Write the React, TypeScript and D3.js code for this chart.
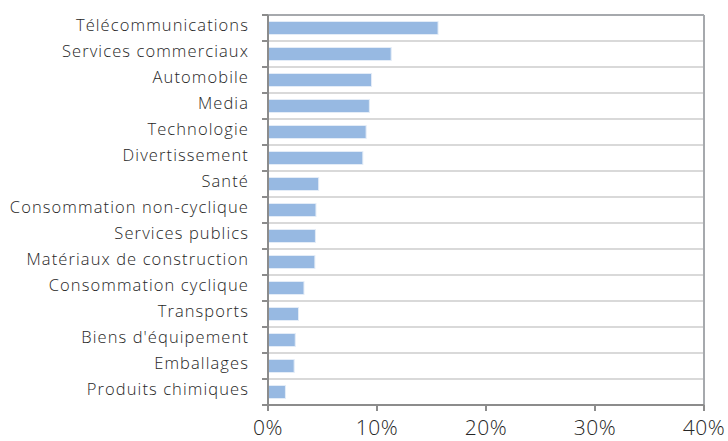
import React from "react";
import * as d3 from "d3";

const categories = [
  "Télécommunications",
  "Services commerciaux",
  "Automobile",
  "Media",
  "Technologie",
  "Divertissement",
  "Santé",
  "Consommation non-cyclique",
  "Services publics",
  "Matériaux de construction",
  "Consommation cyclique",
  "Transports",
  "Biens d'équipement",
  "Emballages",
  "Produits chimiques",
];
const values = [15.6, 11.3, 9.5, 9.3, 9.0, 8.7, 4.65, 4.4, 4.35, 4.3, 3.3, 2.8, 2.5, 2.4, 1.6];
const xTicks = [0, 10, 20, 30, 40];

const W = 728;
const H = 441;
const left = 268;
const right = 704;
const top = 15;
const bottom = 405;
const FONT = "'Open Sans', Lato, sans-serif";

export default function App() {
  const x = d3.scaleLinear().domain([0, 40]).range([left, right]);
  const y = d3.scaleBand<string>().domain(categories).range([top, bottom]).paddingInner(0.5).paddingOuter(0.25);
  const step = y.step();
  const boundaries = d3.range(categories.length + 1).map((i) => top + i * step);

  return (
    <svg width={W} height={H} style={{ position: "absolute", left: 0, top: 0 }}>
      <rect x={0} y={0} width={W} height={H} fill="#fff" />
      {boundaries.slice(1, -1).map((b, i) => (
        <line key={"g" + i} x1={left} x2={right} y1={b} y2={b} stroke="#d9d9d9" strokeWidth={2} />
      ))}
      <line x1={left} x2={right} y1={top} y2={top} stroke="#a6a9ad" strokeWidth={2} />
      <line x1={right} x2={right} y1={top} y2={bottom} stroke="#a6a9ad" strokeWidth={2} />
      {categories.map((c, i) => (
        <rect
          key={c}
          x={x(0)}
          y={y(c)!}
          width={x(values[i]) - x(0)}
          height={y.bandwidth()}
          fill="#97b9e2"
          stroke="#e3ecf7"
          strokeWidth={1}
        />
      ))}
      <line x1={left} x2={left} y1={top} y2={bottom + 6} stroke="#8c8c8c" strokeWidth={2} />
      {boundaries.map((b, i) => (
        <line key={"lt" + i} x1={left - 6} x2={left} y1={b} y2={b} stroke="#8c8c8c" strokeWidth={2} />
      ))}
      <line x1={left - 6} x2={right} y1={bottom} y2={bottom} stroke="#8c8c8c" strokeWidth={2} />
      {xTicks.map((t) => (
        <g key={"xt" + t}>
          <line x1={x(t)} x2={x(t)} y1={bottom} y2={bottom + 6} stroke="#8c8c8c" strokeWidth={2} />
          <text x={x(t)} y={435} textAnchor="middle" fontFamily={FONT} fontSize={21} fontWeight={300} letterSpacing={0.5} fill="#262626">
            {t + "%"}
          </text>
        </g>
      ))}
      {categories.map((c) => (
        <text
          key={"l" + c}
          x={249}
          y={y(c)! + y.bandwidth() / 2}
          dy="0.2em"
          textAnchor="end"
          fontFamily={FONT}
          fontSize={16.5}
          fontWeight={300}
          letterSpacing={1.1}
          fill="#262626"
        >
          {c}
        </text>
      ))}
    </svg>
  );
}
